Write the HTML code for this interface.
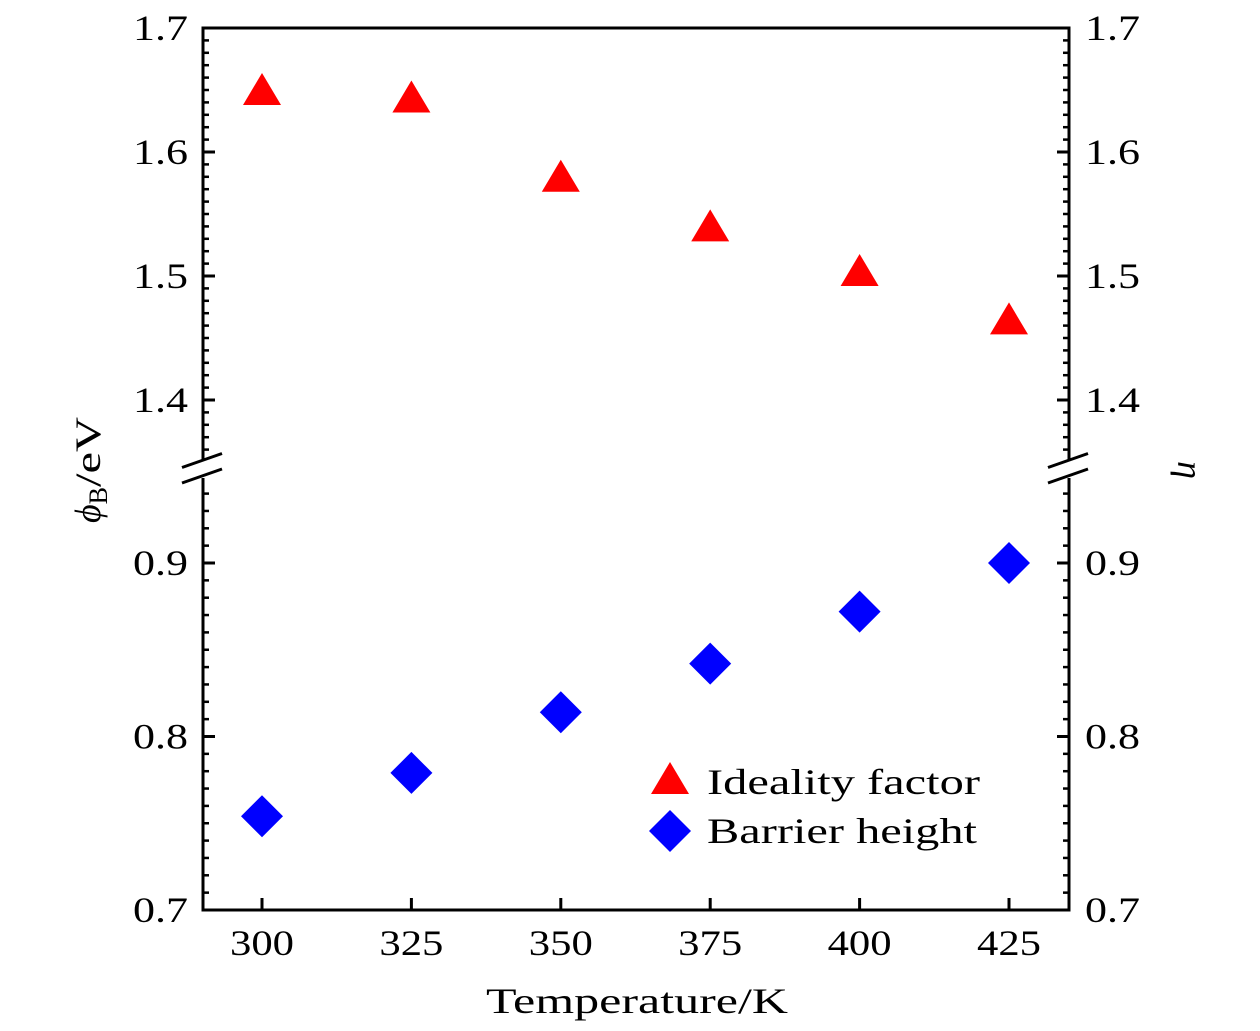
<!DOCTYPE html>
<html><head><meta charset="utf-8"><style>
html,body{margin:0;padding:0;background:#fff;}
svg{display:block;font-family:"Liberation Serif",serif;}
</style></head><body>
<svg id="chart" width="1260" height="1031"></svg>
<script>
const temps = [300, 325, 350, 375, 400, 425];
const ideality = [1.650, 1.644, 1.580, 1.540, 1.504, 1.465];
const barrier = [0.754, 0.779, 0.814, 0.842, 0.872, 0.900];
const xTicks = [300, 325, 350, 375, 400, 425];
const upperTicks = [1.4, 1.5, 1.6, 1.7];
const lowerTicks = [0.7, 0.8, 0.9];

const NS = "http://www.w3.org/2000/svg";
const svg = document.getElementById("chart");
const L = 203, R = 1069, T = 28, B = 910;
function xs(v){ return 262 + (v - 300) * (1009 - 262) / 125; }
function yu(v){ return 28 + (1.7 - v) * 1240; }
function yl(v){ return 563 + (0.9 - v) * 1735; }
function mk(tag, attrs, name, parent){
  const e = document.createElementNS(NS, tag);
  for (const k in attrs) e.setAttribute(k, attrs[k]);
  
  
  (parent || svg).appendChild(e);
  return e;
}
const axStyle = {stroke:"#000","stroke-width":3,fill:"none"};
mk("line", Object.assign({x1:L,y1:T,x2:R,y2:T}, axStyle), "top-axis");
mk("line", Object.assign({x1:L-1.5,y1:B,x2:R+1.5,y2:B}, axStyle), "x-axis");
const yUpEnd = yu(1.352), yLowStart = yl(0.949);
for (const X of [L, R]) {
  const side = X === L ? "left" : "right";
  mk("line", Object.assign({x1:X,y1:T-1.5,x2:X,y2:yUpEnd}, axStyle), side + "-axis-upper");
  mk("line", Object.assign({x1:X,y1:yLowStart,x2:X,y2:B+1.5}, axStyle), side + "-axis-lower");
  mk("line", {x1:X-21,y1:yUpEnd+8,x2:X+19,y2:yUpEnd-6,stroke:"#000","stroke-width":3}, side + "-break-mark");
  mk("line", {x1:X-21,y1:yLowStart+5,x2:X+19,y2:yLowStart-9,stroke:"#000","stroke-width":3}, side + "-break-mark");
  const dir = X === L ? 1 : -1;
  for (let i = 0; i <= 35; i++) {
    const v = 1.7 - i * 0.01;
    if (v < 1.355) break;
    const maj = i % 10 === 0;
    const y = yu(v);
    mk("line", {x1:X,y1:y,x2:X+dir*(maj?12:6),y2:y,stroke:"#000","stroke-width":maj?3:2.5}, side + "-tick");
  }
  for (let i = 0; i <= 25; i++) {
    const v = 0.7 + i * 0.01;
    if (v > 0.945) break;
    const maj = i % 10 === 0;
    const y = yl(v);
    mk("line", {x1:X,y1:y,x2:X+dir*(maj?12:6),y2:y,stroke:"#000","stroke-width":maj?3:2.5}, side + "-tick");
  }
}
function lab(x, y, txt, anchor, len, name){
  const t = mk("text", {x:x,y:y,"font-size":36,"text-anchor":anchor,textLength:len,lengthAdjust:"spacingAndGlyphs"}, name);
  t.textContent = txt;
  return t;
}
for (const v of upperTicks) {
  lab(188, yu(v)+12, v.toFixed(1), "end", 55, "left-tick-label");
  lab(1085, yu(v)+12, v.toFixed(1), "start", 55, "right-tick-label");
}
for (const v of lowerTicks) {
  lab(188, yl(v)+12, v.toFixed(1), "end", 55, "left-tick-label");
  lab(1085, yl(v)+12, v.toFixed(1), "start", 55, "right-tick-label");
}
for (const v of xTicks) {
  mk("line", {x1:xs(v),y1:B,x2:xs(v),y2:B-12,stroke:"#000","stroke-width":3}, "x-tick");
  lab(xs(v), 955, String(v), "middle", 64, "x-tick-label");
}
lab(637, 1013, "Temperature/K", "middle", 302, "x-axis-title");
const yt = mk("text", {x:0,y:0,"font-size":36,"text-anchor":"middle",transform:"translate(100,470) rotate(-90)"}, "y-axis-title-left");
yt.innerHTML = '<tspan font-style="italic">ϕ</tspan><tspan font-size="26" dy="7">B</tspan><tspan dy="-7" textLength="70" lengthAdjust="spacingAndGlyphs">/eV</tspan>';
const yr = mk("text", {x:0,y:0,"font-size":36,"font-style":"italic","text-anchor":"middle",transform:"translate(1178,470) rotate(90)"}, "y-axis-title-right");
yr.textContent = "η";
function tri(cx, cy, name){
  mk("polygon", {points:`${cx},${cy-17} ${cx+19},${cy+15} ${cx-19},${cy+15}`, fill:"#ff0000"}, name);
}
function dia(cx, cy, name){
  mk("polygon", {points:`${cx},${cy-21} ${cx+21},${cy} ${cx},${cy+21} ${cx-21},${cy}`, fill:"#0000ff"}, name);
}
temps.forEach((t, i) => {
  tri(xs(t), yu(ideality[i]), "ideality-point");
  dia(xs(t), yl(barrier[i]), "barrier-point");
});
tri(670, 779, "legend-ideality-marker");
dia(670, 831, "legend-barrier-marker");
lab(707, 794, "Ideality factor", "start", 273, "legend-ideality-label");
lab(707, 843, "Barrier height", "start", 270, "legend-barrier-label");
</script>
</body></html>
